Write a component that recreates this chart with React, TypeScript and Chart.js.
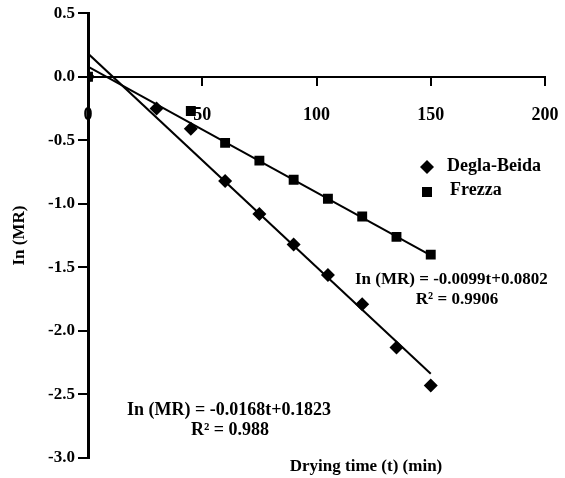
import React, { useEffect, useRef } from "react";
import { Chart, registerables } from "chart.js";

Chart.register(...registerables);

const timeDegla = [0, 30, 45, 60, 75, 90, 105, 120, 135, 150];
const lnMRDegla = [0, -0.25, -0.41, -0.82, -1.08, -1.32, -1.56, -1.79, -2.13, -2.43];
const timeFrezza = [0, 45, 60, 75, 90, 105, 120, 135, 150];
const lnMRFrezza = [0, -0.27, -0.52, -0.66, -0.81, -0.96, -1.1, -1.26, -1.4];
const fitTime = [0, 150];
const fitDegla = [0.1823, -2.3377];
const fitFrezza = [0.0802, -1.4048];
const legendLabels = ["Degla-Beida", "Frezza"];
const eqFrezza = ["In (MR) = -0.0099t+0.0802", "R\u00B2 = 0.9906"];
const eqDegla = ["In (MR) = -0.0168t+0.1823", "R\u00B2 = 0.988"];
const xTitle = "Drying time (t) (min)";
const yTitle = "In (MR)";

const FONT = "'Liberation Serif', 'Times New Roman', serif";

const pts = (xs: number[], ys: number[]) => xs.map((x, i) => ({ x, y: ys[i] }));

const textPlugin = {
  id: "annot",
  afterDraw(chart: any) {
    const ctx = chart.ctx as CanvasRenderingContext2D;
    ctx.save();
    ctx.fillStyle = "#000";
    // legend markers
    const dx = 427, dy = 167, r = 7;
    ctx.beginPath();
    ctx.moveTo(dx, dy - r);
    ctx.lineTo(dx + r, dy);
    ctx.lineTo(dx, dy + r);
    ctx.lineTo(dx - r, dy);
    ctx.closePath();
    ctx.fill();
    ctx.fillRect(422, 187, 10, 10);
    ctx.textBaseline = "middle";
    ctx.textAlign = "left";
    ctx.font = `bold 18px ${FONT}`;
    ctx.fillText(legendLabels[0], 447, 166);
    ctx.fillText(legendLabels[1], 450, 190);
    // equations
    ctx.font = `bold 17px ${FONT}`;
    ctx.textAlign = "left";
    ctx.fillText(eqFrezza[0], 355, 280);
    ctx.textAlign = "center";
    ctx.fillText(eqFrezza[1], 457, 300);
    ctx.font = `bold 18px ${FONT}`;
    ctx.textAlign = "left";
    ctx.fillText(eqDegla[0], 127, 410);
    ctx.textAlign = "center";
    ctx.fillText(eqDegla[1], 230, 430);
    // x title
    ctx.font = `bold 17px ${FONT}`;
    ctx.fillText(xTitle, 366, 467);
    ctx.restore();
  },
};

export default function App() {
  const ref = useRef<HTMLCanvasElement>(null);
  useEffect(() => {
    if (!ref.current) return;
    const chart = new Chart(ref.current, {
      type: "scatter",
      data: {
        datasets: [
          {
            label: legendLabels[0],
            data: pts(timeDegla, lnMRDegla),
            pointStyle: "rectRot",
            pointRadius: 7,
            backgroundColor: "#000",
            borderColor: "#000",
            borderWidth: 0,
            showLine: false,
          },
          {
            label: legendLabels[1],
            data: pts(timeFrezza, lnMRFrezza),
            pointStyle: "rect",
            pointRadius: 7,
            backgroundColor: "#000",
            borderColor: "#000",
            borderWidth: 0,
            showLine: false,
          },
          {
            label: "fit Degla",
            data: pts(fitTime, fitDegla),
            showLine: true,
            pointRadius: 0,
            borderColor: "#000",
            borderWidth: 2,
          },
          {
            label: "fit Frezza",
            data: pts(fitTime, fitFrezza),
            showLine: true,
            pointRadius: 0,
            borderColor: "#000",
            borderWidth: 2,
          },
        ],
      },
      options: {
        responsive: false,
        animation: false,
        devicePixelRatio: 1,
        layout: { padding: { top: 11, right: 20, bottom: 20, left: 0 } },
        plugins: { legend: { display: false }, tooltip: { enabled: false } },
        scales: {
          x: {
            type: "linear",
            position: { y: 0 } as any,
            min: 0,
            max: 200,
            afterFit: (s: any) => {
              s.paddingLeft = 0;
              s.paddingRight = 0;
            },
            ticks: {
              stepSize: 50,
              color: "#000",
              font: { family: FONT, size: 18, weight: "bold" },
              padding: 20,
              maxRotation: 0,
            },
            grid: {
              drawOnChartArea: false,
              drawTicks: true,
              tickLength: 8,
              color: "#000",
              lineWidth: 2,
            },
            border: { display: true, color: "#000", width: 2 },
          },
          y: {
            type: "linear",
            position: "left",
            min: -3,
            max: 0.5,
            afterFit: (s: any) => {
              s.width = 88;
            },
            ticks: {
              stepSize: 0.5,
              color: "#000",
              font: { family: FONT, size: 17, weight: "bold" },
              padding: 3,
              callback: (v: any) => Number(v).toFixed(1),
            },
            grid: {
              drawOnChartArea: false,
              drawTicks: true,
              tickLength: 10,
              color: "#000",
              lineWidth: 2,
            },
            border: { display: true, color: "#000", width: 3 },
            title: {
              display: true,
              text: yTitle,
              color: "#000",
              font: { family: FONT, size: 17, weight: "bold" },
              padding: { top: 9, bottom: 0 },
            },
          },
        },
      },
      plugins: [textPlugin],
    } as any);
    return () => chart.destroy();
  }, []);
  return (
    <canvas
      ref={ref}
      width={565}
      height={478}
      style={{ position: "absolute", left: 0, top: 0, width: 565, height: 478 }}
    />
  );
}
